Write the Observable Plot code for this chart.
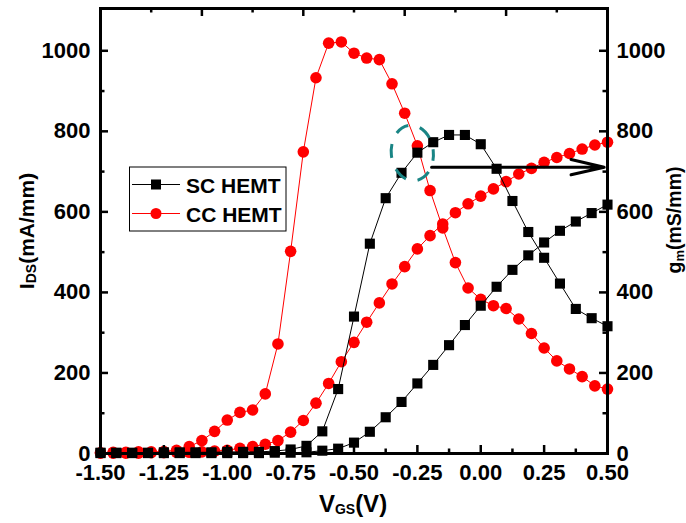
<!DOCTYPE html>
<html><head><meta charset="utf-8">
<script src="https://cdn.jsdelivr.net/npm/d3@7"></script>
<script src="https://cdn.jsdelivr.net/npm/@observablehq/plot@0.6"></script>
<style>
body{margin:0;background:#fff}
svg{font-family:"Liberation Sans",Arial,sans-serif}
</style>
</head><body><div id="chart"></div>
<script>
// ---- data ----
const ccV = [-1.50,-1.45,-1.40,-1.35,-1.30,-1.25,-1.20,-1.15,-1.10,-1.05,-1.00,-0.95,-0.90,-0.85,-0.80,-0.75,-0.70,-0.65,-0.60,-0.55,-0.50,-0.45,-0.40,-0.35,-0.30,-0.25,-0.20,-0.15,-0.10,-0.05,0.00,0.05,0.10,0.15,0.20,0.25,0.30,0.35,0.40,0.45,0.50];
const ccGm = [2,3,3,4,4,5,8,17,32,55,83,102,108,148,272,502,749,933,1019,1022,994,982,978,918,845,764,653,560,474,411,383,367,360,334,298,262,230,210,191,168,160];
const ccIds = [1,1,1,1,2,2,3,3,4,6,8,13,17,23,32,53,82,125,174,228,276,326,374,421,464,508,541,570,598,620,639,657,675,694,708,723,735,745,756,766,773];

const scV = [-1.5,-1.4375,-1.375,-1.3125,-1.25,-1.1875,-1.125,-1.0625,-1.0,-0.9375,-0.875,-0.8125,-0.75,-0.6875,-0.625,-0.5625,-0.5,-0.4375,-0.375,-0.3125,-0.25,-0.1875,-0.125,-0.0625,0,0.0625,0.125,0.1875,0.25,0.3125,0.375,0.4375,0.5];
const scGm = [2,2,2,2,3,3,3,3,4,4,4,6,10,19,55,160,340,521,634,697,747,773,791,791,768,707,627,550,486,422,359,336,316];
const scIds = [1,1,1,1,1,1,1,1,1,1,1,2,2,3,7,12,27,54,90,128,174,220,269,319,367,414,456,492,524,553,576,597,618];

const xTicksBottom = [-1.5,-1.25,-1.0,-0.75,-0.5,-0.25,0,0.25,0.5];
const xMinorBottom = [-1.375,-1.125,-0.875,-0.625,-0.375,-0.125,0.125,0.375];
const xTicksTop = [-1.5,-1.1,-0.7,-0.3,0.1,0.5];
const xMinorTop = [-1.3,-0.9,-0.5,-0.1,0.3];
const yTicks = [0,200,400,600,800,1000];
const yMinor = [100,300,500,700,900];

const seriesNames = ["SC HEMT","CC HEMT"];
const arrowAnn = [{x1:-0.194, y1:711, x2:0.487, y2:711}];
const ellipseAnn = {cx:-0.268, cy:745, rx:0.083, ry:69};

// ---- layout ----
const W=686, H=523, mL=100, mR=79, mT=8, mB=70;
const iw=W-mL-mR, ih=H-mT-mB;

const cc = ccV.map((v,i)=>({v, gm:ccGm[i], ids:ccIds[i]}));
const sc = scV.map((v,i)=>({v, gm:scGm[i], ids:scIds[i]}));
const red="#ff0000", blk="#000000";
const fmtX = d => d.toFixed(2);
const fmtY = d => String(d);
const lblFont = 22;

const plot = Plot.plot({
  width:W, height:H, marginLeft:mL, marginRight:mR, marginTop:mT, marginBottom:mB,
  style:{background:"#fff", color:"#000", fontFamily:"Liberation Sans, Arial, sans-serif", overflow:"visible"},
  x:{domain:[-1.5,0.5]},
  y:{domain:[0,1105]},
  marks:[
    Plot.line(cc,{x:"v",y:"gm",stroke:red,strokeWidth:1}),
    Plot.dot(cc,{x:"v",y:"gm",fill:red,r:5.8}),
    Plot.line(cc,{x:"v",y:"ids",stroke:red,strokeWidth:1}),
    Plot.dot(cc,{x:"v",y:"ids",fill:red,r:5.8}),
    Plot.line(sc,{x:"v",y:"gm",stroke:blk,strokeWidth:1}),
    Plot.dot(sc,{x:"v",y:"gm",fill:blk,symbol:"square",r:5.7}),
    Plot.line(sc,{x:"v",y:"ids",stroke:blk,strokeWidth:1}),
    Plot.dot(sc,{x:"v",y:"ids",fill:blk,symbol:"square",r:5.7}),
    Plot.arrow(arrowAnn,{x1:"x1",y1:"y1",x2:"x2",y2:"y2",stroke:blk,strokeWidth:3,headLength:17,headAngle:26}),
    Plot.tickX(xTicksBottom,{x:d=>d,insetTop:ih-8,strokeWidth:2.5}),
    Plot.tickX(xMinorBottom,{x:d=>d,insetTop:ih-4.5,strokeWidth:2.5}),
    Plot.tickX(xTicksTop,{x:d=>d,insetBottom:ih-8,strokeWidth:2.5}),
    Plot.tickX(xMinorTop,{x:d=>d,insetBottom:ih-4.5,strokeWidth:2.5}),
    Plot.tickY(yTicks,{y:d=>d,insetRight:iw-8,strokeWidth:2.5}),
    Plot.tickY(yMinor,{y:d=>d,insetRight:iw-4.5,strokeWidth:2.5}),
    Plot.tickY(yTicks,{y:d=>d,insetLeft:iw-8,strokeWidth:2.5}),
    Plot.tickY(yMinor,{y:d=>d,insetLeft:iw-4.5,strokeWidth:2.5}),
    Plot.frame({stroke:blk,strokeWidth:3}),
    Plot.axisX(xTicksBottom,{anchor:"bottom",tickSize:0,tickPadding:11,tickFormat:fmtX,fontSize:lblFont,fontWeight:"bold",label:null}),
    Plot.axisY(yTicks,{anchor:"left",tickSize:0,tickPadding:10,tickFormat:fmtY,fontSize:lblFont,fontWeight:"bold",label:null}),
    Plot.axisY(yTicks,{anchor:"right",tickSize:0,tickPadding:9,tickFormat:fmtY,fontSize:lblFont,fontWeight:"bold",label:null})
  ]
});

const svg = d3.select(plot);
svg.selectAll("text").attr("font-weight","bold").attr("fill","#000");
const xs = plot.scale("x"), ys = plot.scale("y");

// dashed ellipse annotation
const ecx = xs.apply(ellipseAnn.cx), ecy = ys.apply(ellipseAnn.cy);
const erx = xs.apply(ellipseAnn.cx+ellipseAnn.rx)-ecx, ery = ecy-ys.apply(ellipseAnn.cy+ellipseAnn.ry);
svg.append("ellipse")
  .attr("cx",ecx).attr("cy",ecy).attr("rx",erx).attr("ry",ery)
  .attr("transform",`rotate(-6 ${ecx} ${ecy})`)
  .attr("fill","none").attr("stroke","#1a8585").attr("stroke-width",3)
  .attr("stroke-dasharray","14,12").attr("stroke-dashoffset",4);

// axis titles
const left = svg.append("text")
  .attr("transform","translate(34,231) rotate(-90)")
  .attr("text-anchor","middle").attr("font-weight","bold").attr("font-size",21).attr("fill","#000");
left.append("tspan").text("I");
left.append("tspan").attr("font-size",14).attr("dy",2).text("DS");
left.append("tspan").attr("dy",-2).text("(mA/mm)");

const right = svg.append("text")
  .attr("transform","translate(681,220) rotate(-90)")
  .attr("text-anchor","middle").attr("font-weight","bold").attr("font-size",19.5).attr("fill","#000");
right.append("tspan").text("g");
right.append("tspan").attr("font-size",13).attr("dy",3).text("m");
right.append("tspan").attr("dy",-3).text("(mS/mm)");

const bottom = svg.append("text")
  .attr("transform","translate(353,512)")
  .attr("text-anchor","middle").attr("font-weight","bold").attr("font-size",24).attr("fill","#000");
bottom.append("tspan").text("V");
bottom.append("tspan").attr("font-size",14).attr("dy",2).text("GS");
bottom.append("tspan").attr("dy",-2).text("(V)");

// legend
const lg = svg.append("g");
lg.append("rect").attr("x",129.5).attr("y",167).attr("width",156.5).attr("height",64)
  .attr("fill","#fff").attr("stroke","#000").attr("stroke-width",1);
const rows = [{name:seriesNames[0],y:184.5,color:blk,sym:"square"},{name:seriesNames[1],y:213.5,color:red,sym:"circle"}];
rows.forEach(r=>{
  lg.append("line").attr("x1",132).attr("x2",180).attr("y1",r.y).attr("y2",r.y).attr("stroke",r.color).attr("stroke-width",1);
  if(r.sym==="square") lg.append("rect").attr("x",151).attr("y",r.y-5).attr("width",10).attr("height",10).attr("fill",r.color);
  else lg.append("circle").attr("cx",156).attr("cy",r.y).attr("r",5.5).attr("fill",r.color);
  lg.append("text").attr("x",186).attr("y",r.y+8).attr("text-anchor","start").attr("font-size",21).attr("font-weight","bold").attr("fill","#000").text(r.name);
});

document.getElementById("chart").appendChild(plot);
</script></body></html>
